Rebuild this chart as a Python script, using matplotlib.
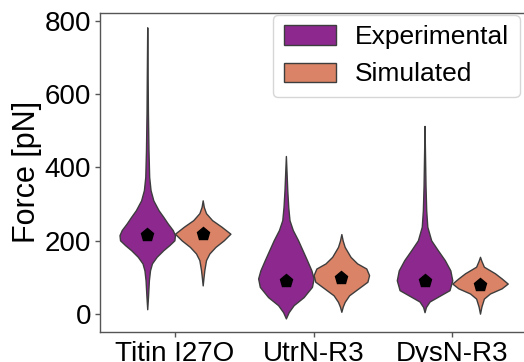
import matplotlib
matplotlib.use("Agg")
import matplotlib.pyplot as plt
import matplotlib.patches as mpatches
import numpy as np

plt.rcParams["font.family"] = ["Liberation Sans", "DejaVu Sans"]

# --- data ---
proteins = ["Titin I27O", "UtrN-R3", "DysN-R3"]
groups = ["Experimental", "Simulated"]

# violin outlines: force levels (pN) and relative half-width (1 = widest)
titin_exp_force = [13, 50, 92, 119, 138, 156, 174, 188, 201, 215, 229, 247, 265, 283, 310, 338, 374, 447, 550, 650, 782]
titin_exp_width = [0, 0.03, 0.06, 0.1, 0.17, 0.34, 0.58, 0.8, 0.98, 1.0, 0.92, 0.74, 0.58, 0.41, 0.22, 0.12, 0.07, 0.045, 0.025, 0.015, 0]
titin_sim_force = [78, 100, 120, 147, 165, 183, 201, 219, 238, 256, 275, 292, 310]
titin_sim_width = [0, 0.03, 0.06, 0.12, 0.24, 0.46, 0.76, 1.0, 0.68, 0.34, 0.12, 0.04, 0]

utrn_exp_force = [-12, 5, 24, 46, 74, 97, 119, 147, 174, 201, 229, 256, 292, 338, 431]
utrn_exp_width = [0, 0.1, 0.28, 0.64, 0.94, 1.0, 0.92, 0.76, 0.6, 0.44, 0.25, 0.13, 0.085, 0.05, 0]
utrn_sim_force = [6, 20, 33, 51, 69, 88, 106, 124, 138, 156, 183, 200, 218]
utrn_sim_width = [0, 0.05, 0.12, 0.28, 0.6, 0.94, 1.0, 0.9, 0.57, 0.33, 0.12, 0.05, 0]

dysn_exp_force = [5, 19, 34, 47, 65, 92, 119, 147, 174, 201, 238, 283, 350, 420, 513]
dysn_exp_width = [0, 0.05, 0.18, 0.48, 0.9, 1.0, 0.93, 0.73, 0.48, 0.24, 0.1, 0.06, 0.035, 0.02, 0]
dysn_sim_force = [1, 20, 42, 56, 70, 83, 97, 111, 129, 145, 156]
dysn_sim_width = [0, 0.05, 0.14, 0.36, 0.78, 1.0, 0.78, 0.54, 0.14, 0.05, 0]

exp_mean = [216, 90, 91]
sim_mean = [219, 97, 80]

y_ticks = [0, 200, 400, 600, 800]

COLORS = {
    "Experimental": "#8c288e",
    "Simulated": "#da8366",
    "edge": "#3d3d3d",
    "spine": "#555555",
}

profiles = {
    "Experimental": [(titin_exp_force, titin_exp_width),
                     (utrn_exp_force, utrn_exp_width),
                     (dysn_exp_force, dysn_exp_width)],
    "Simulated": [(titin_sim_force, titin_sim_width),
                  (utrn_sim_force, utrn_sim_width),
                  (dysn_sim_force, dysn_sim_width)],
}
means = {"Experimental": exp_mean, "Simulated": sim_mean}
offsets = {"Experimental": -0.2, "Simulated": 0.2}

fig = plt.figure(figsize=(5.24, 3.62), dpi=100)
ax = fig.add_axes([0.191, 0.084, 0.815, 0.88])

x = np.arange(len(proteins))
for g in groups:
    stats = []
    for (force, width), m in zip(profiles[g], means[g]):
        stats.append({
            "coords": np.array(force, dtype=float),
            "vals": np.array(width, dtype=float),
            "mean": m, "median": m,
            "min": min(force), "max": max(force),
        })
    parts = ax.violin(stats, positions=x + offsets[g], widths=0.4,
                      showmeans=False, showextrema=False, showmedians=False)
    for body in parts["bodies"]:
        body.set_facecolor(COLORS[g])
        body.set_edgecolor(COLORS["edge"])
        body.set_linewidth(1.0)
        body.set_alpha(1)
    ax.plot(x + offsets[g], means[g], linestyle="none", marker="p",
            markersize=9.5, color="black", zorder=5)

ax.set_xlim(-0.54, 2.54)
ax.set_ylim(-48, 821)
ax.set_xticks(x)
ax.set_xticklabels(proteins, fontsize=20)
ax.set_yticks(y_ticks)
ax.set_yticklabels([str(t) for t in y_ticks], fontsize=20)
ax.set_ylabel("Force [pN]", fontsize=22, labelpad=2)
ax.tick_params(length=3.5, width=1, color=COLORS["spine"], pad=3)

for s in ["left", "bottom", "top"]:
    ax.spines[s].set_color(COLORS["spine"])
    ax.spines[s].set_linewidth(1.0)
ax.spines["right"].set_visible(False)

handles = [mpatches.Patch(facecolor=COLORS[g], edgecolor=COLORS["edge"], label=g)
           for g in groups]
ax.legend(handles=handles, fontsize=19, loc="upper left",
          bbox_to_anchor=(0.405, 0.995), handlelength=2.0, handleheight=0.75,
          handletextpad=0.7, labelspacing=0.5, borderaxespad=0)

plt.savefig("out.png", dpi=100)
plt.close()
